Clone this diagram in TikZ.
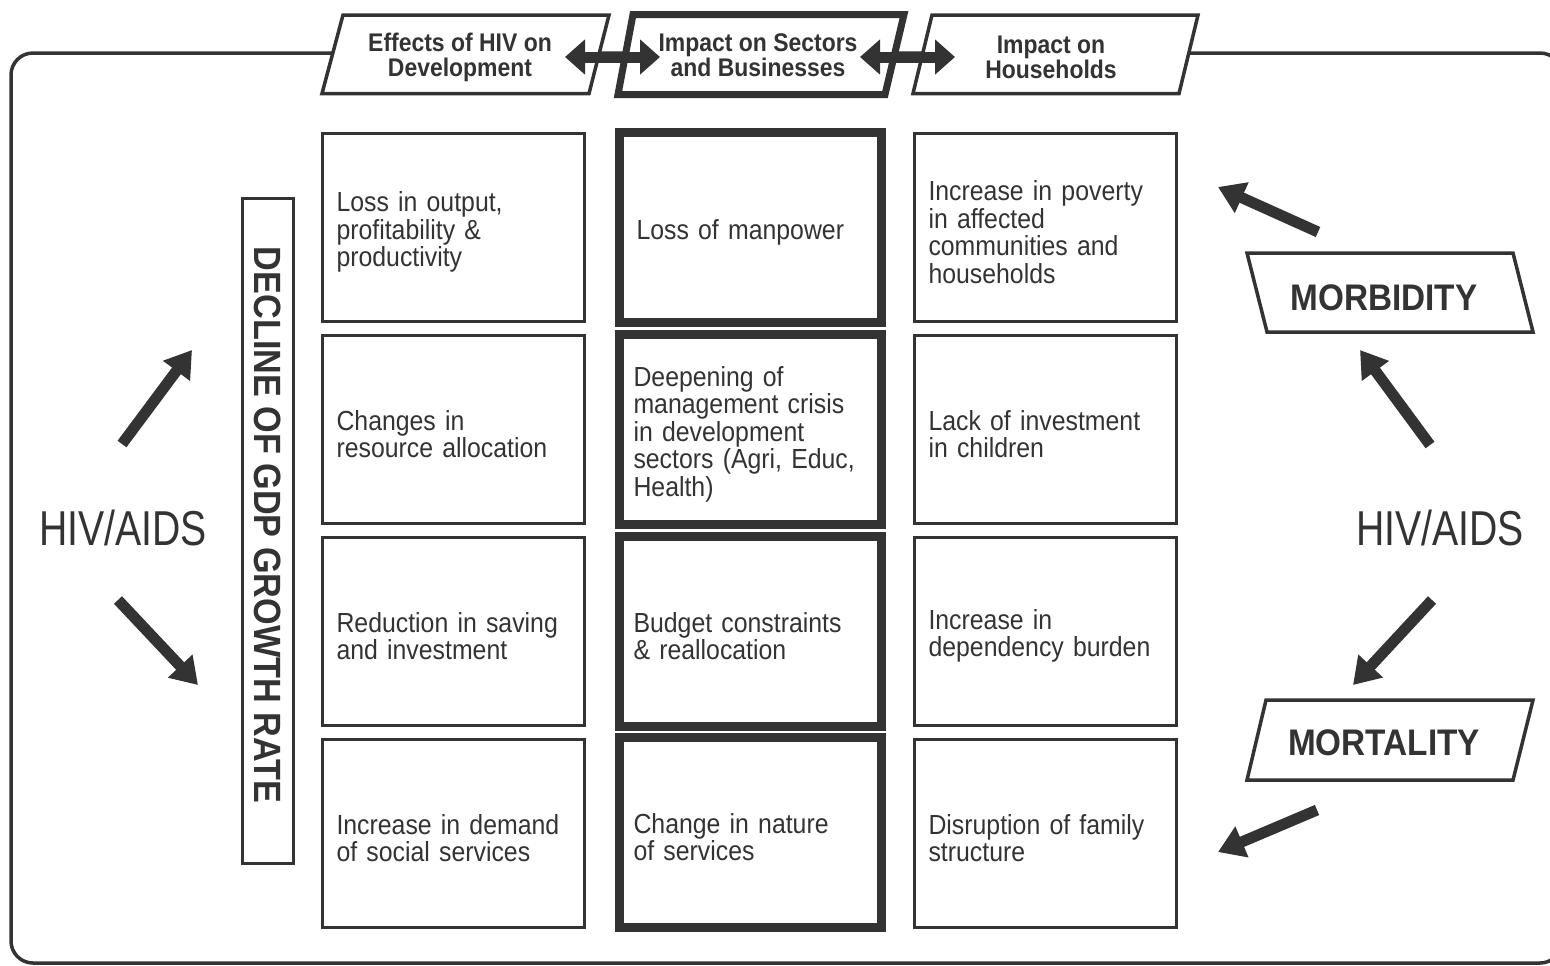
\documentclass[tikz,border=0pt]{standalone}
\usepackage{fontspec}
\setmainfont[FakeStretch=0.9]{Liberation Sans}
\newfontfamily\hivfont[FakeStretch=0.8]{Liberation Sans}
\usetikzlibrary{arrows.meta}
\definecolor{ink}{HTML}{333333}
\newcommand\tp{\rule{0pt}{14.5pt}}
\begin{document}
\begin{tikzpicture}[x=0.5pt,y=-0.5pt,
  every node/.style={text=ink},
  frame/.style={draw=ink,line width=1.75pt,rounded corners=11pt},
  hdrbox/.style={draw=ink,fill=white,line width=1.75pt,line join=miter},
  hdrthick/.style={draw=ink,fill=white,line width=3.5pt,line join=miter},
  hdrtext/.style={font=\bfseries\fontsize{12.75pt}{12.5pt}\selectfont,align=center,inner sep=0pt},
  cellbox/.style={draw=ink,line width=1.6pt,minimum width=131pt,minimum height=94pt,
    text width=117pt,inner xsep=7pt,align=left,
    font=\fontsize{13.8pt}{13.75pt}\selectfont},
  midbox/.style={cellbox,line width=4.5pt,minimum height=95pt},
  sidelabel/.style={font=\bfseries\fontsize{18.5pt}{18.5pt}\selectfont,inner sep=0pt},
  hivlabel/.style={font=\hivfont\fontsize{24.5pt}{24.5pt}\selectfont,inner sep=0pt},
  fat/.style={draw=ink,line width=5.5pt,-{Triangle[length=13pt,width=16pt]}},
  dbl/.style={draw=ink,line width=5.5pt,{Triangle[length=10pt,width=17pt]}-{Triangle[length=10pt,width=17pt]}}
]
\useasboundingbox (0,0) rectangle (1550,965);
% outer frame
\draw[frame] (11,53) rectangle (1562,963);

% header parallelograms
\draw[hdrbox] (343,15) -- (609,15) -- (589,93.5) -- (322,93.5) -- cycle;
\draw[hdrthick] (633,14.5) -- (904,14.5) -- (885,94.5) -- (618,94.5) -- cycle;
\draw[hdrbox] (932,15) -- (1198,15) -- (1179,93.5) -- (913,93.5) -- cycle;
\node[hdrtext] (h1) at (460,57) {Effects of HIV on\\Development};
\node[hdrtext] (h2) at (758,55) {Impact on Sectors\\and Businesses};
\node[hdrtext] (h3) at (1051,57) {Impact on\\Households};

% header double arrows
\coordinate (d1a) at (565,57);
\coordinate (d1b) at (660,57);
\coordinate (d2a) at (860,57);
\coordinate (d2b) at (955,57);
\draw[dbl] (d1a) -- (d1b);
\draw[dbl] (d2a) -- (d2b);

% column 1
\node[cellbox] (c11) at (453.5,227.5) {\tp Loss in output,\\profitability \&\\productivity};
\node[cellbox] (c12) at (453.5,429.5) {\tp Changes in\\resource allocation};
\node[cellbox] (c13) at (453.5,631.5) {\tp Reduction in saving\\and investment};
\node[cellbox] (c14) at (453.5,833.5) {\tp Increase in demand\\of social services};

% column 2
\node[midbox] (c21) at (750.5,227.5) {\tp\hspace*{1.5pt}Loss of manpower};
\node[midbox] (c22) at (750.5,429.5) {\tp Deepening of\\management crisis\\in development\\sectors (Agri, Educ,\\Health)};
\node[midbox] (c23) at (750.5,631.5) {\tp Budget constraints\\\& reallocation};
\node[midbox] (c24) at (750.5,832.5) {\tp Change in nature\\of services};

% column 3
\node[cellbox] (c31) at (1045.5,227.5) {\tp Increase in poverty\\in affected\\communities and\\households};
\node[cellbox] (c32) at (1045.5,429.5) {\tp Lack of investment\\in children};
\node[cellbox] (c33) at (1045.5,631.5) {\tp Increase in\\dependency burden};
\node[cellbox] (c34) at (1045.5,833.5) {\tp Disruption of family\\structure};

% GDP vertical box
\node[draw=ink,line width=1.75pt,rotate=-90,minimum width=332.5pt,minimum height=25.5pt,inner sep=0pt,
  font=\bfseries\fontsize{19pt}{19pt}\selectfont] (gdp) at (268,531) {DECLINE OF GDP GROWTH RATE\hspace*{6pt}};

% HIV/AIDS labels
\node[hivlabel] (hivL) at (123,528) {HIV/AIDS};
\node[hivlabel] (hivR) at (1440,528) {HIV/AIDS};

% morbidity / mortality
\draw[hdrbox] (1247,253) -- (1513,253) -- (1533,332) -- (1267,332) -- cycle;
\node[sidelabel] (morb) at (1384,298) {MORBIDITY};
\draw[hdrbox] (1266,700) -- (1533,700) -- (1513,780) -- (1247,780) -- cycle;
\node[sidelabel] (mort) at (1384,743) {MORTALITY};

% left arrows
\coordinate (la1) at (122,444); \coordinate (lb1) at (192,350);
\coordinate (la2) at (118,600); \coordinate (lb2) at (198,685);
\draw[fat] (la1) -- (lb1);
\draw[fat] (la2) -- (lb2);

% right arrows
\coordinate (ra1) at (1318,232); \coordinate (rb1) at (1218,187);
\coordinate (ra2) at (1430,445); \coordinate (rb2) at (1360,350);
\coordinate (ra3) at (1432,600); \coordinate (rb3) at (1353,685);
\coordinate (ra4) at (1317,810); \coordinate (rb4) at (1218,852);
\draw[fat] (ra1) -- (rb1);
\draw[fat] (ra2) -- (rb2);
\draw[fat] (ra3) -- (rb3);
\draw[fat] (ra4) -- (rb4);
\end{tikzpicture}
\end{document}
